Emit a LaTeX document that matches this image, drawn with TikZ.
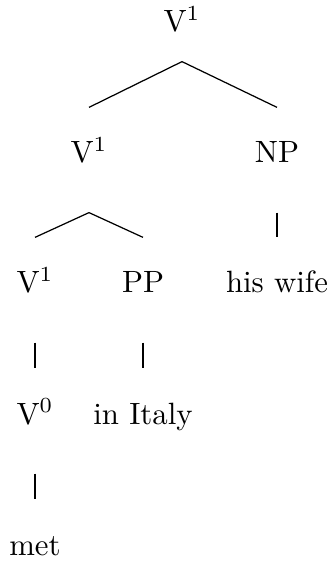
\documentclass[tikz,border=0pt]{standalone}
\begin{document}
\begin{tikzpicture}[x=0.3247pt,y=-0.3247pt,
  lab/.style={anchor=base,inner sep=0pt,text height=17.86pt,text depth=15.91pt},
  edge/.style={line width=0.4pt}]
\useasboundingbox (0,0) rectangle (330,562);
\node[lab,text depth=9.42pt] (top) at (182,32) {V$^1$};
\node[lab] (vb) at (89,163) {V$^1$};
\node[lab] (np) at (277,163) {NP};
\node[lab] (vc) at (35,293) {V$^1$};
\node[lab] (pp) at (143,293) {PP};
\node[lab] (hw) at (277,293) {his wife};
\node[lab] (v0) at (35,424) {V$^0$};
\node[lab] (it) at (143,424) {in Italy};
\node[lab] (met) at (35,555) {met};
\draw[edge] (top.south) -- (vb.north);
\draw[edge] (top.south) -- (np.north);
\draw[edge] (vb.south) -- (vc.north);
\draw[edge] (vb.south) -- (pp.north);
\draw[edge] (np.south) -- (hw.north);
\draw[edge] (vc.south) -- (v0.north);
\draw[edge] (pp.south) -- (it.north);
\draw[edge] (v0.south) -- (met.north);
\end{tikzpicture}
\end{document}
